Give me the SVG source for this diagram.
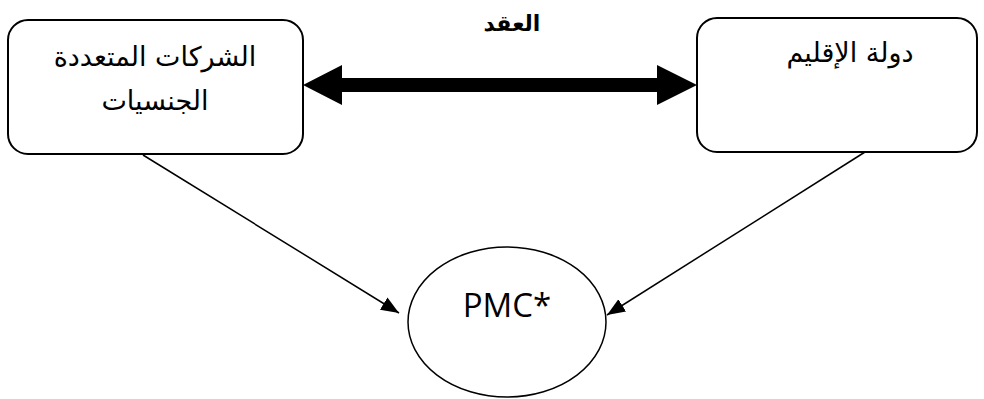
<svg xmlns="http://www.w3.org/2000/svg" width="984" height="399" viewBox="0 0 984 399">
<style>
.box{fill:#fff;stroke:#000;stroke-width:2}
.ar{font-family:"DejaVu Sans",sans-serif;font-size:27px;fill:#000;text-anchor:middle}
.ln{stroke:#000;stroke-width:1.5;fill:none}
</style>
<defs>
<marker id="ah" viewBox="0 0 10 10" refX="10" refY="5" markerWidth="18" markerHeight="18" markerUnits="userSpaceOnUse" orient="auto">
<path d="M0,1 L10,5 L0,9 Z" fill="#000"/>
</marker>
</defs>
<rect width="984" height="399" fill="#fff"/>
<g id="connectors">
<path d="M342,78 H657 V65 L697,85 L657,105 V92 H342 V105 L303,85 L342,65 Z" fill="#000"/>
<line class="ln" x1="143" y1="155" x2="399" y2="313" marker-end="url(#ah)"/>
<line class="ln" x1="865" y1="152" x2="607" y2="315" marker-end="url(#ah)"/>
<text x="512" y="31" class="ar" style="font-weight:bold;font-size:22px">العقد</text>
</g>
<g id="node-mnc">
<rect class="box" x="8" y="20" width="295" height="134" rx="20"/>
<text x="155" y="66" class="ar">الشركات المتعددة</text>
<text x="155" y="110" class="ar">الجنسيات</text>
</g>
<g id="node-state">
<rect class="box" x="697" y="18" width="280" height="134" rx="20"/>
<text x="850" y="62" class="ar">دولة الإقليم</text>
</g>
<g id="node-pmc">
<ellipse cx="507" cy="322" rx="99" ry="75" fill="#fff" stroke="#000" stroke-width="1.5"/>
<text x="507" y="317" style="font-family:'Open Sans',sans-serif;font-size:33px;text-anchor:middle">PMC*</text>
</g>
</svg>
